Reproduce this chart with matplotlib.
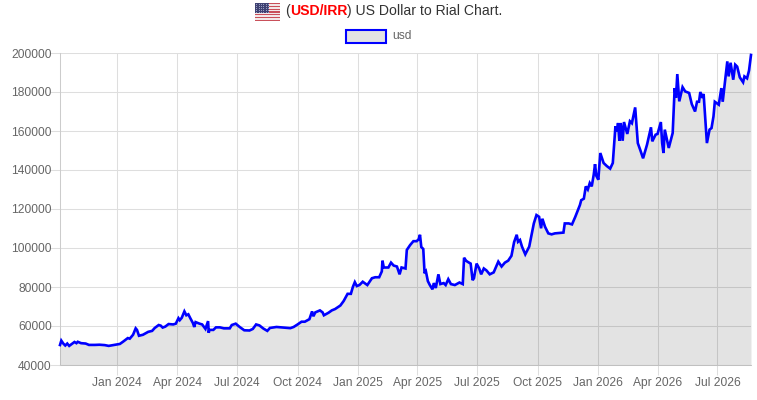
"""USD/IRR rate chart, drawn the way the web chart shows it."""

import matplotlib
matplotlib.use("Agg")

import matplotlib.dates as mdates
import matplotlib.pyplot as plt
import numpy as np
import pandas as pd
from matplotlib.patches import Rectangle

plt.rcParams["font.family"] = ["Liberation Sans", "DejaVu Sans"]

W, H = 757, 400
START_DATE = "2023-10-06"

# days since START_DATE
days = [
    0, 2, 5, 8, 11, 14, 18, 22, 25, 27, 32, 39, 44, 53, 60, 68, 74, 83, 91, 96,
    103, 106, 111, 115, 117, 120, 126, 134, 140, 144, 150, 153, 156, 160, 165,
    172, 176, 180, 182, 185, 189, 192, 195, 198, 202, 204, 206, 212, 216, 221,
    225, 226, 227, 233, 237, 243, 249, 258, 261, 267, 273, 280, 288, 293, 298,
    303, 309, 315, 319, 329, 339, 350, 355, 361, 367, 372, 379, 383, 385, 388,
    395, 399, 401, 408, 413, 418, 426, 431, 437, 442, 445, 448, 451, 455, 460,
    467, 474, 479, 485, 489, 490, 492, 499, 503, 507, 512, 516, 519, 525, 527,
    532, 537, 542, 545, 547, 549, 552, 554, 556, 559, 562, 566, 568, 571, 575,
    578, 583, 586, 590, 594, 600, 607, 612, 614, 617, 619, 624, 627, 629, 633,
    637, 640, 644, 648, 653, 659, 666, 671, 676, 681, 686, 690, 694, 696, 699,
    702, 707, 713, 717, 720, 724, 728, 731, 733, 737, 742, 747, 752, 765, 767,
    773, 778, 783, 788, 790, 792, 796, 799, 802, 805, 808, 811, 813, 815, 818,
    821, 826, 831, 836, 840, 844, 846, 848, 850, 852, 855, 857, 862, 866, 869,
    874, 878, 882, 886, 892, 898, 900, 905, 908, 913, 915, 917, 919, 925, 931,
    934, 936, 938, 941, 946, 950, 956, 960, 965, 968, 971, 973, 976, 978, 980,
    983, 987, 990, 993, 995, 1001, 1005, 1007, 1011, 1014, 1016, 1019, 1023,
    1026, 1029, 1033, 1038, 1040, 1044, 1047, 1050,
]
usd = [
    50250, 52500, 51000, 50000, 51000, 49800, 50800, 51800, 51200, 51900, 51200,
    51000, 50300, 50300, 50400, 50200, 49800, 50300, 50800, 52000, 53800, 53500,
    55500, 58800, 58000, 55000, 55500, 57000, 57500, 59000, 60500, 60200, 59200,
    59700, 61000, 60800, 61200, 64000, 63000, 64200, 67500, 65500, 66000, 64000,
    61500, 59500, 62000, 61200, 60800, 58500, 62500, 56500, 58000, 58000, 59300,
    59300, 58800, 58800, 60500, 61200, 59500, 57800, 57700, 58500, 60800, 60300,
    58700, 57500, 59000, 59500, 59200, 58900, 59500, 60800, 62200, 62200, 63500,
    67500, 65000, 67000, 68000, 67000, 65500, 66800, 68000, 68700, 70500, 72800,
    76500, 76500, 80000, 82500, 80500, 81000, 82700, 81000, 84500, 85000, 85000,
    88000, 93500, 90000, 90000, 92500, 91000, 90500, 86500, 90000, 89500, 99000,
    101500, 103500, 103500, 104500, 106800, 100500, 99500, 87000, 88000, 83000,
    81000, 78800, 82000, 79500, 86500, 81500, 82000, 81000, 84000, 81500, 81000,
    82300, 81500, 95000, 93500, 93000, 92000, 83500, 84500, 92000, 89500, 86500,
    89500, 88500, 86500, 87500, 93000, 90500, 92500, 93500, 96000, 103000, 106800,
    103200, 104100, 100700, 96750, 100700, 107500, 112600, 116900, 116000, 110100,
    115000, 110900, 107500, 107000, 107500, 107900, 112600, 112600, 112100, 116000,
    120300, 122000, 124500, 125300, 131600, 130000, 133300, 131600, 137600, 143000,
    137000, 135000, 148700, 143600, 142000, 140700, 143600, 162400, 159800, 164100,
    155000, 164100, 155000, 164600, 158500, 165000, 164000, 172100, 153800, 150000,
    146000, 153000, 161900, 154700, 158100, 158500, 164600, 153800, 148700, 160700,
    151300, 159000, 182000, 177000, 189200, 175200, 182500, 180300, 179500, 173800,
    170000, 175000, 175000, 180000, 177000, 179000, 169000, 153800, 160700, 161500,
    167500, 175000, 173500, 182000, 175000, 187000, 195700, 188000, 195000, 186300,
    194000, 193000, 187500, 185000, 188000, 187000, 191000, 199000,
]
y_ticks = [40000, 60000, 80000, 100000, 120000, 140000, 160000, 180000, 200000]
x_ticks = ["2024-01-01", "2024-04-01", "2024-07-01", "2024-10-01", "2025-01-01",
           "2025-04-01", "2025-07-01", "2025-10-01", "2026-01-01", "2026-04-01",
           "2026-07-01"]
series_name = "usd"

GRID = "#dedede"
TICK_TEXT = "#666666"
TITLE_TEXT = "#333333"
FILL = (0, 0, 0, 0.11)

dates = pd.Timestamp(START_DATE) + pd.to_timedelta(days, unit="D")

fig = plt.figure(figsize=(W / 100, H / 100), dpi=100)
ax = fig.add_axes([60 / W, 1 - 365 / H, (751 - 60) / W, (365 - 53) / H])

ax.fill_between(dates, usd, 40000, color=FILL, linewidth=0, zorder=3)
ax.plot(dates, usd, color="#0000ff", lw=1.9, zorder=4, solid_joinstyle="miter",
        clip_on=False)

ax.set_xlim(dates[0], dates[-1])
ax.set_ylim(40000, 200000)
ax.set_yticks(y_ticks)
ax.set_xticks(pd.to_datetime(x_ticks))
ax.xaxis.set_major_formatter(mdates.DateFormatter("%b %Y"))
ax.grid(True, color=GRID, lw=0.75, zorder=1)
ax.set_axisbelow(True)
# tick marks are 10 px long in the grid colour
ax.tick_params(axis="both", length=7.2, width=0.75, color=GRID, labelsize=8.64,
               labelcolor=TICK_TEXT)
ax.tick_params(axis="y", pad=-1.2)
ax.tick_params(axis="x", pad=7.9)
# baseline keeps the labels level, with or without a descender
for label in ax.get_xticklabels():
    label.set_va("baseline")
for side in ["top", "right"]:
    ax.spines[side].set_visible(False)
for side in ["left", "bottom"]:
    ax.spines[side].set_color("#cccccc")
    ax.spines[side].set_linewidth(0.75)

# title: three pieces laid end to end
renderer = fig.canvas.get_renderer()
x_px = 285
for piece, color, weight in [("(", TITLE_TEXT, "normal"),
                             ("USD/IRR", "#ff0000", "bold"),
                             (") US Dollar to Rial Chart.", TITLE_TEXT, "normal")]:
    t = fig.text(x_px / W, 1 - 11 / H, piece, color=color, fontweight=weight,
                 fontsize=10.1, va="center", ha="left")
    x_px += t.get_window_extent(renderer).width

# flag, stripes from the top
flag = fig.add_axes([255 / W, 1 - 21 / H, 25 / W, 18 / H])
flag.set_xlim(0, 1)
flag.set_ylim(13, 0)
flag.axis("off")
for row in range(13):
    stripe = "#c9505a" if row % 2 == 0 else "#f2e8e8"
    flag.add_patch(Rectangle((0, row), 1, 1, color=stripe, lw=0))
flag.add_patch(Rectangle((0, 0), 0.57, 7, color="#3f4273", lw=0))
star_x, star_y = np.meshgrid(np.linspace(0.05, 0.52, 6), np.linspace(0.8, 6.2, 5))
flag.scatter(star_x, star_y, s=0.5, color="#9fa3c4", linewidths=0)

# legend box and label
fig.patches.append(Rectangle((346 / W, 1 - 42.5 / H), 40 / W, 12 / H,
                             transform=fig.transFigure, facecolor="#e3e3e3",
                             edgecolor="#0000ff", linewidth=1.5))
fig.text(392 / W, 1 - 36 / H, series_name, color=TICK_TEXT, fontsize=8.64,
         va="center", ha="left")

fig.savefig("out.png", dpi=100)
